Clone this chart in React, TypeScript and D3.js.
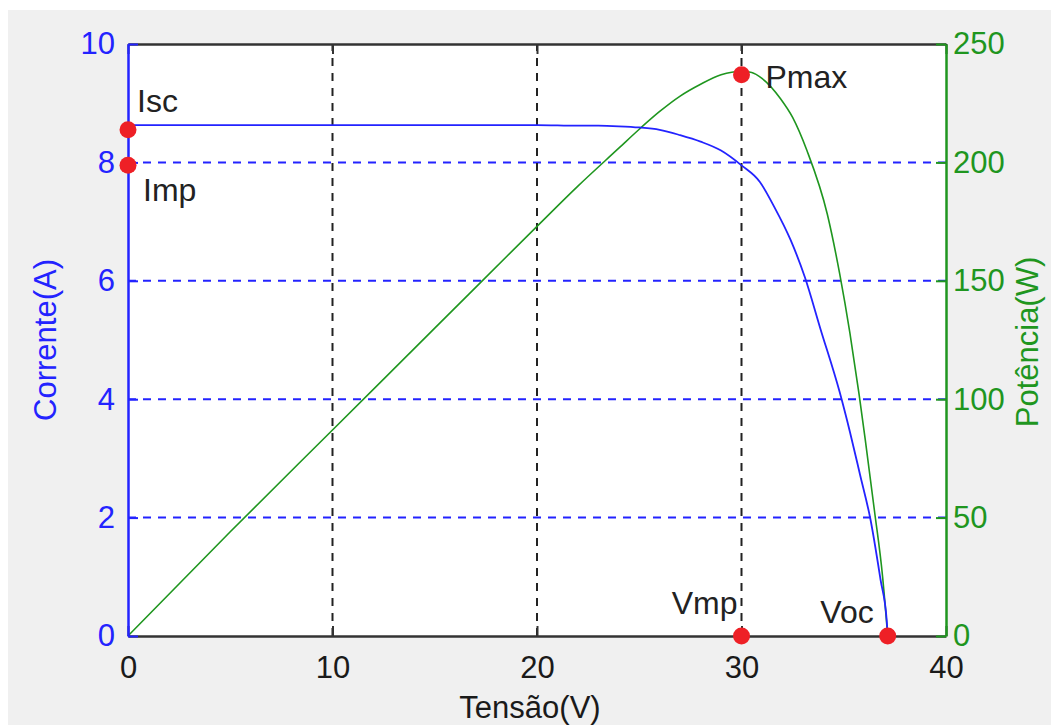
import React, { useRef, useEffect } from 'react';
import * as d3 from 'd3';

// I-V curve
const ivVoltage = [0, 5, 10, 15, 20, 22, 23, 24, 25, 26, 27, 28, 29, 30, 30.9, 31.6, 32.4, 33.1, 33.85, 34.8, 35.3, 35.8, 36.3, 36.8, 37.1, 37.15];
const ivCurrent = [8.63, 8.63, 8.63, 8.63, 8.63, 8.62, 8.62, 8.61, 8.59, 8.55, 8.46, 8.35, 8.2, 7.95, 7.67, 7.25, 6.69, 6.06, 5.2, 4.12, 3.45, 2.72, 1.98, 0.95, 0.27, 0];

// P-V curve
const pvVoltage = [0, 5, 10, 15, 20, 22, 24, 25, 26, 27, 28, 29, 30, 30.5, 31, 31.9, 32.5, 33.2, 34.2, 34.8, 35.3, 35.75, 36.05, 36.5, 36.9, 37.15];
const pvPower = [0, 44, 87, 130, 173, 190, 206, 214, 221.5, 228, 233, 237, 238.5, 238, 235.5, 227, 219, 205, 178, 153, 128, 102, 83, 53, 25, 0];

const xTicks = [0, 10, 20, 30, 40];
const iTicks = [0, 2, 4, 6, 8, 10];
const pTicks = [0, 50, 100, 150, 200, 250];

// key points
const markerNames = ['Isc', 'Imp', 'Pmax', 'Vmp', 'Voc'];
const markerVoltage = [0, 0, 30, 30, 37.15];
const markerValue = [8.55, 7.95, 237, 0, 0];
const markerAxis = ['i', 'i', 'p', 'i', 'i'];

const labelOffset: Record<string, [number, number, string]> = {
  Isc: [9, -18, 'start'],
  Imp: [15, 36, 'start'],
  Pmax: [24, 13, 'start'],
  Vmp: [-4, -22, 'end'],
  Voc: [-14, -13, 'end'],
};

const BLUE = '#2323ff';
const GREEN = '#1f961f';
const RED = '#ee2026';
const FONT = '"Liberation Sans", Arial, sans-serif';

const App = () => {
  const svgRef = useRef(null);
  useEffect(() => {
    d3.select(svgRef.current).selectAll('*').remove();
    const svg = d3.select(svgRef.current);
    const m = { left: 128, right: 946, top: 44, bottom: 636 };

    const x = d3.scaleLinear().domain([0, 40]).range([m.left, m.right]);
    const yI = d3.scaleLinear().domain([0, 10]).range([m.bottom, m.top]);
    const yP = d3.scaleLinear().domain([0, 250]).range([m.bottom, m.top]);

    svg.append('rect').attr('x', 8).attr('y', 10).attr('width', 1043).attr('height', 715).attr('fill', '#f0f0f0');
    svg.append('rect').attr('x', m.left).attr('y', m.top).attr('width', m.right - m.left).attr('height', m.bottom - m.top).attr('fill', '#fff');

    // grid
    svg.append('g').selectAll('line').data(iTicks.slice(1, -1)).join('line')
      .attr('x1', m.left).attr('x2', m.right)
      .attr('y1', (d) => yI(d)).attr('y2', (d) => yI(d))
      .attr('stroke', BLUE).attr('stroke-width', 2).attr('stroke-dasharray', '8,7');
    svg.append('g').selectAll('line').data(xTicks.slice(1, -1)).join('line')
      .attr('x1', (d) => x(d)).attr('x2', (d) => x(d))
      .attr('y1', m.bottom).attr('y2', m.top)
      .attr('stroke', '#222').attr('stroke-width', 2).attr('stroke-dasharray', '8,7');

    // curves
    const ivLine = d3.line<number>().x((d, i) => x(ivVoltage[i])).y((d) => yI(d)).curve(d3.curveMonotoneX);
    const pvLine = d3.line<number>().x((d, i) => x(pvVoltage[i])).y((d) => yP(d)).curve(d3.curveMonotoneX);
    svg.append('path').attr('d', pvLine(pvPower)).attr('fill', 'none').attr('stroke', GREEN).attr('stroke-width', 1.6);
    svg.append('path').attr('d', ivLine(ivCurrent)).attr('fill', 'none').attr('stroke', BLUE).attr('stroke-width', 1.8);

    // axes
    const bottom = svg.append('g').attr('transform', `translate(0,${m.bottom})`)
      .call(d3.axisBottom(x).tickValues(xTicks).tickSize(-10).tickSizeOuter(0).tickPadding(20).tickFormat((d) => `${d}`));
    bottom.select('.domain').attr('stroke', '#333').attr('stroke-width', 2.5);
    bottom.selectAll('.tick line').attr('stroke', '#333').attr('stroke-width', 2);
    bottom.selectAll('.tick text').attr('fill', '#1a1a1a').attr('dy', '0.71em');

    const top = svg.append('g').attr('transform', `translate(0,${m.top})`)
      .call(d3.axisTop(x).tickValues(xTicks).tickSize(-10).tickSizeOuter(0).tickFormat(() => ''));
    top.select('.domain').attr('stroke', '#333').attr('stroke-width', 2.5);
    top.selectAll('.tick line').attr('stroke', '#333').attr('stroke-width', 2);

    const left = svg.append('g').attr('transform', `translate(${m.left},0)`)
      .call(d3.axisLeft(yI).tickValues(iTicks).tickSize(-10).tickSizeOuter(0).tickPadding(13));
    left.select('.domain').attr('stroke', BLUE).attr('stroke-width', 2.5);
    left.selectAll('.tick line').attr('stroke', BLUE).attr('stroke-width', 2);
    left.selectAll('.tick text').attr('fill', BLUE);

    const right = svg.append('g').attr('transform', `translate(${m.right},0)`)
      .call(d3.axisRight(yP).tickValues(pTicks).tickSize(-10).tickSizeOuter(0).tickPadding(7));
    right.select('.domain').attr('stroke', GREEN).attr('stroke-width', 2.5);
    right.selectAll('.tick line').attr('stroke', GREEN).attr('stroke-width', 2);
    right.selectAll('.tick text').attr('fill', GREEN);

    svg.selectAll('.tick text').attr('font-size', 31).attr('font-family', FONT);

    // markers
    markerNames.forEach((name, i) => {
      const cx = x(markerVoltage[i]);
      const cy = markerAxis[i] === 'p' ? yP(markerValue[i]) : yI(markerValue[i]);
      svg.append('circle').attr('cx', cx).attr('cy', cy).attr('r', 8.5).attr('fill', RED);
      const [dx, dy, anchor] = labelOffset[name];
      svg.append('text').attr('x', cx + dx).attr('y', cy + dy).attr('text-anchor', anchor)
        .attr('font-size', 32).attr('font-family', FONT).attr('fill', '#222').text(name);
    });

    // titles
    svg.append('text').attr('x', 530).attr('y', 718).attr('text-anchor', 'middle')
      .attr('font-size', 31).attr('font-family', FONT).attr('fill', '#1a1a1a').text('Tensão(V)');
    svg.append('text').attr('transform', `translate(56,340) rotate(-90)`).attr('text-anchor', 'middle')
      .attr('font-size', 31).attr('font-family', FONT).attr('fill', BLUE).text('Corrente(A)');
    svg.append('text').attr('transform', `translate(1038,342) rotate(-90)`).attr('text-anchor', 'middle')
      .attr('font-size', 31).attr('font-family', FONT).attr('fill', GREEN).text('Potência(W)');
  }, []);

  return (
    <svg ref={svgRef} width={1051} height={725} style={{ position: 'absolute', left: 0, top: 0 }}></svg>
  );
};

export default App;
